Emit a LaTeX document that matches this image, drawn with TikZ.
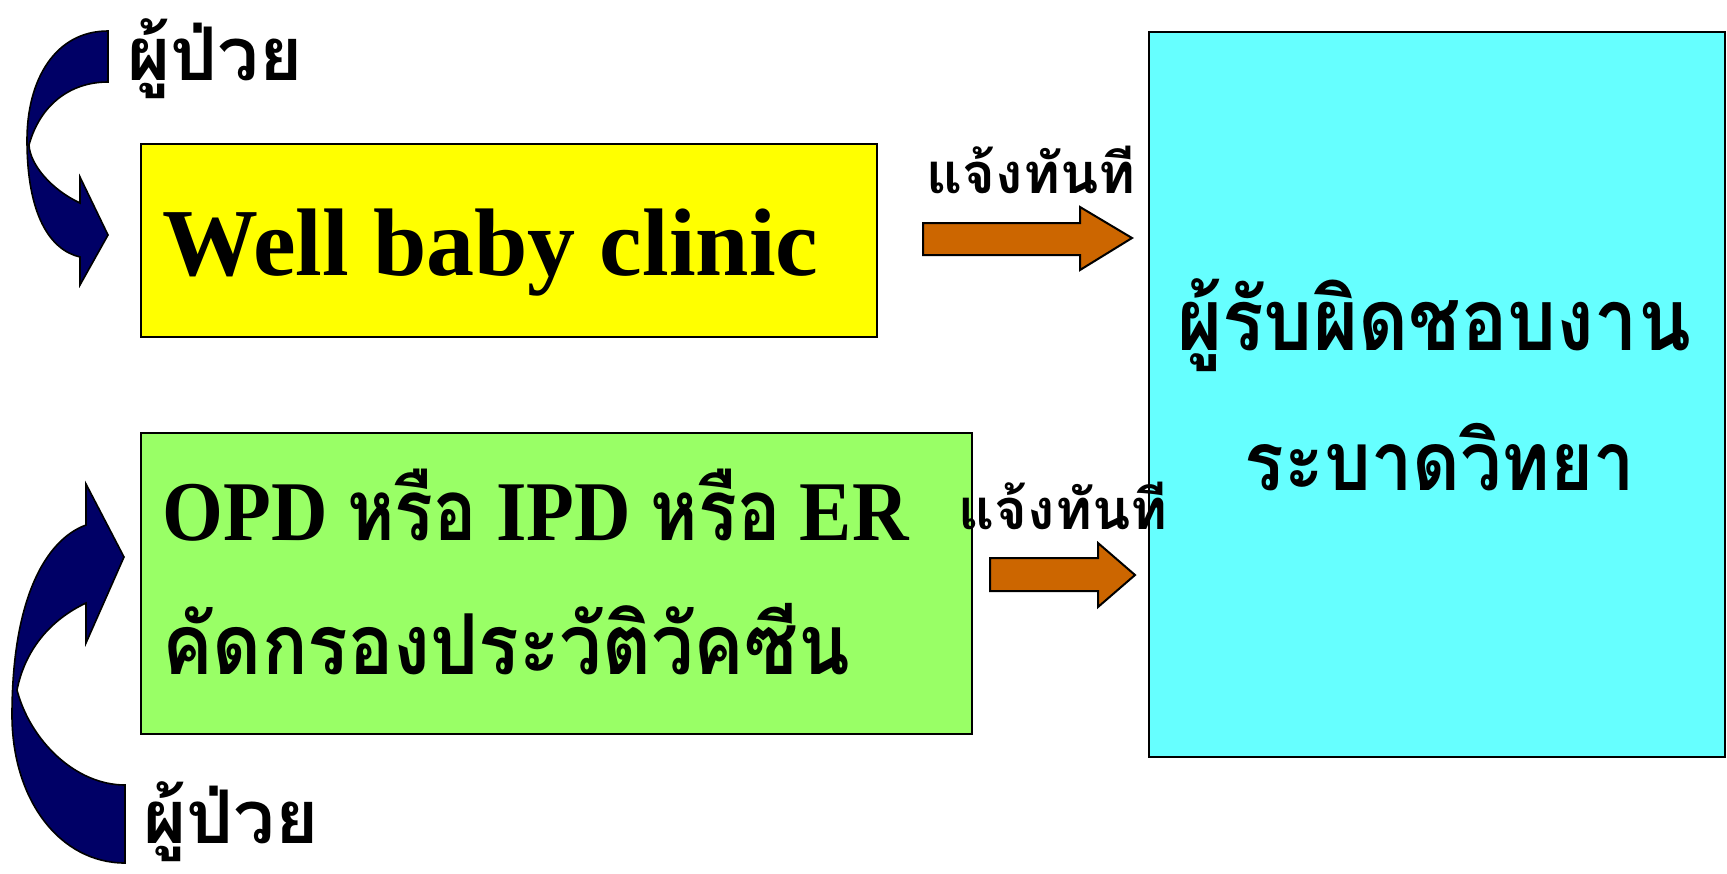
\documentclass[tikz,border=0pt]{standalone}
\usepackage{fontspec}
\setmainfont{Liberation Serif}
\newfontfamily\thai[Script=Thai]{Loma}
\newfontfamily\thain[Script=Thai, FakeStretch=0.9]{Loma}
\newfontfamily\thaic[Script=Thai, FakeStretch=0.85]{Loma}
\newfontfamily\serifc[FakeStretch=0.92]{Liberation Serif}
\definecolor{yel}{HTML}{FFFF00}
\definecolor{grn}{HTML}{99FF66}
\definecolor{cyn}{HTML}{66FFFF}
\definecolor{org}{HTML}{CC6600}
\definecolor{nav}{HTML}{000066}
\begin{document}
\begin{tikzpicture}[x=0.5pt,y=-0.5pt,
  box/.style={draw=black, line width=1pt, inner sep=0pt, anchor=north west},
  blockarrow/.style={fill=org, draw=black, line width=1pt, line join=miter},
  curvearrow/.style={fill=nav, draw=black, line width=0.8pt},
  txt/.style={inner sep=0pt, font=\bfseries}]
\useasboundingbox (0,0) rectangle (1727,873);
% boxes
\node[box, fill=yel, minimum width=368pt, minimum height=96.5pt] (well) at (140,143) {};
\node[box, fill=grn, minimum width=415.5pt, minimum height=150.5pt] (opd) at (140,432) {};
\node[box, fill=cyn, minimum width=288pt, minimum height=362.5pt] (epi) at (1148,31) {};
% texts
\node[txt, anchor=base west, font=\bfseries\fontsize{48}{56}\selectfont] (t1) at (162,275) {Well baby clinic};
\node[txt, anchor=base west, font=\serifc\bfseries\fontsize{42.5}{48}\selectfont] (t2) at (162,540) {OPD {\thaic หรือ} IPD {\thaic หรือ} ER};
\node[txt, anchor=base west, font=\thain\bfseries\fontsize{42}{48}\selectfont] (t3) at (162,674) {คัดกรองประวัติวัคซีน};
\node[txt, anchor=base, font=\thain\bfseries\fontsize{43}{48}\selectfont] (t4) at (1434,350) {ผู้รับผิดชอบงาน};
\node[txt, anchor=base, font=\thain\bfseries\fontsize{41}{48}\selectfont] (t5) at (1440,490) {ระบาดวิทยา};
\node[txt, anchor=base west, font=\thai\bfseries\fontsize{37}{40}\selectfont] (p1) at (127,80) {ผู้ป่วย};
\node[txt, anchor=base west, font=\thai\bfseries\fontsize{37}{40}\selectfont] (p2) at (143,843) {ผู้ป่วย};
\node[txt, anchor=base, font=\thai\bfseries\fontsize{28}{34}\selectfont] (n1) at (1031,193) {แจ้งทันที};
\node[txt, anchor=base, font=\thai\bfseries\fontsize{28}{34}\selectfont] (n2) at (1063,529) {แจ้งทันที};
% block arrows
\draw[blockarrow] (923,223) -- (1080,223) -- (1080,207) -- (1132,238) -- (1080,270) -- (1080,255) -- (923,255) -- cycle;
\draw[blockarrow] (990,558) -- (1098,558) -- (1098,543) -- (1135,575) -- (1098,607) -- (1098,591) -- (990,591) -- cycle;
% curved arrows
\draw[curvearrow] (108,31) .. controls (55,31) and (27,80) .. (27,140)
  .. controls (27,215) and (50,250) .. (80,257) -- (80,285) -- (108,235) -- (80,177) -- (80,203)
  .. controls (52,190) and (30,165) .. (29,145)
  .. controls (40,105) and (70,82) .. (108,82) -- cycle;
\draw[curvearrow] (125,863) .. controls (60,863) and (12,800) .. (12,715)
  .. controls (12,600) and (45,540) .. (86,525) -- (86,484) -- (124,557) -- (86,643) -- (86,603)
  .. controls (50,620) and (25,650) .. (17,690)
  .. controls (30,740) and (75,785) .. (125,785) -- cycle;
\end{tikzpicture}
\end{document}
